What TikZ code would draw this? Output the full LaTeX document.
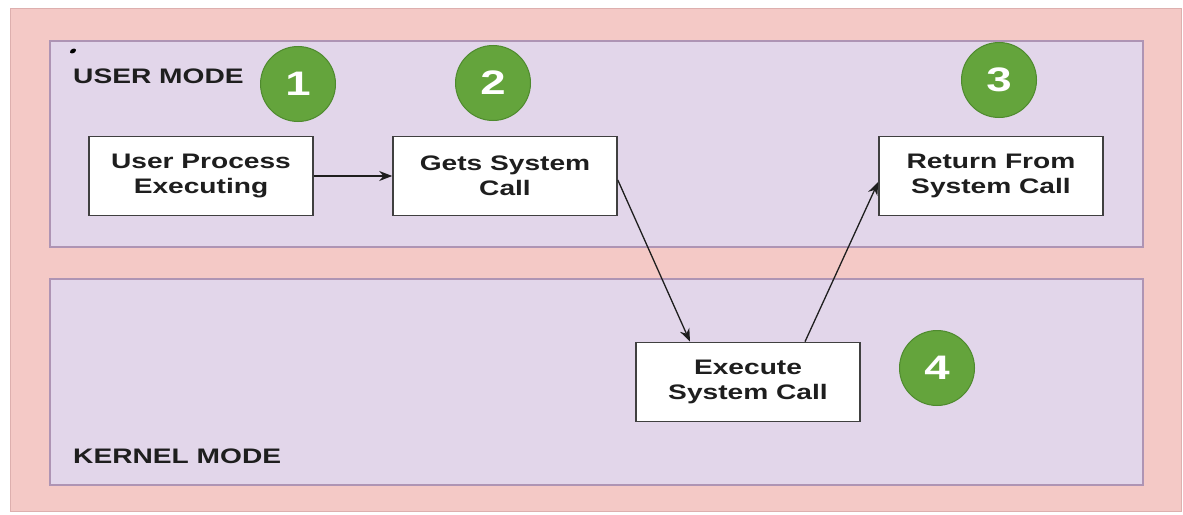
\documentclass[tikz,border=0pt]{standalone}
\usepackage{fontspec}
\setmainfont{Liberation Sans}[FakeStretch=1.34]
\usetikzlibrary{arrows.meta}
\definecolor{outerpink}{HTML}{F4C9C6}
\definecolor{outerline}{HTML}{DDAFAE}
\definecolor{lav}{HTML}{E2D6EA}
\definecolor{lavline}{HTML}{AE94B4}
\definecolor{stepgreen}{HTML}{64A43C}
\definecolor{stepline}{HTML}{4E8A2E}
\definecolor{txt}{HTML}{1E1E1E}
\tikzset{
  modebox/.style={draw=lavline, fill=lav, line width=1.5pt},
  procbox/.style={draw=txt!85, fill=white, line width=1.6pt, minimum width=224pt, minimum height=79pt, inner sep=0pt, align=center, font=\fontsize{21}{25}\selectfont\bfseries, text=txt},
  numcirc/.style={circle, draw=stepline, fill=stepgreen, line width=1pt, minimum size=75pt, inner sep=0pt, font=\fontsize{34}{34}\selectfont\bfseries, text=white},
  modelabel/.style={anchor=west, inner sep=0pt, font=\fontsize{21}{25}\selectfont\bfseries, text=txt},
  flow/.style={draw=txt, line width=1.3pt, -{Stealth[length=13pt,width=10pt]}}
}
\begin{document}
\begin{tikzpicture}[x=1pt,y=-1pt]
\useasboundingbox (0,0) rectangle (1183,514);
\fill[white] (0,0) rectangle (1183,514);
\draw[fill=outerpink, draw=outerline, line width=1pt] (10,8) rectangle (1181,511);
\draw[modebox] (50,41) rectangle (1143,247);
\draw[modebox] (50,279) rectangle (1143,485);
\fill[black] (73,51) ellipse [x radius=3.2pt, y radius=2.2pt, rotate=30];
\node[modelabel] (um) at (73,76) {USER MODE};
\node[modelabel] (km) at (73,456) {KERNEL MODE};
\node[procbox] (b1) at (201,176) {User Process\\Executing};
\node[procbox] (b2) at (505,176) {Gets System\\Call};
\node[procbox] (b3) at (991,176) {Return From\\System Call};
\node[procbox] (b4) at (748,382) {Execute\\System Call};
\node[numcirc] (c1) at (298,84) {1};
\node[numcirc] (c2) at (493,83) {2};
\node[numcirc] (c3) at (999,80) {3};
\node[numcirc] (c4) at (937,368) {4};
\draw[flow] (b1.east) -- (b2.west);
\draw[flow] ([yshift=-4pt]b2.east) -- ([xshift=-58pt]b4.north);
\draw[flow] ([xshift=57pt]b4.north) -- ([yshift=-6pt]b3.west);
\end{tikzpicture}
\end{document}
